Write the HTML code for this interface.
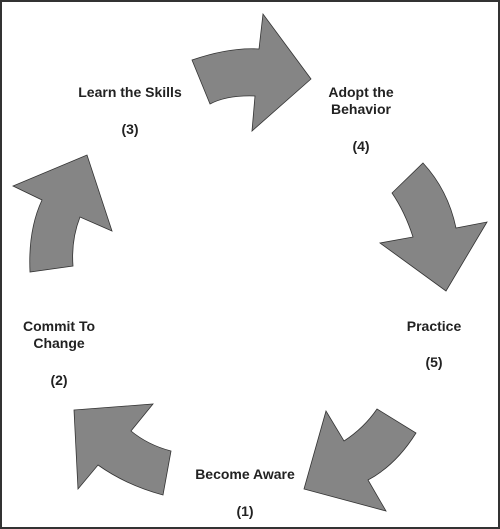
<!DOCTYPE html>
<html><head><style>
html,body{margin:0;padding:0;background:#fff}
svg{display:block}
text{font-family:"Liberation Sans",Arial,sans-serif;font-weight:bold;font-size:14px;fill:#222;text-anchor:middle}
</style></head><body>
<svg width="500" height="529" viewBox="0 0 500 529">
<rect x="1" y="1" width="498" height="527" fill="#fff" stroke="#333" stroke-width="2"/>
<g fill="#858585" stroke="#333" stroke-width="0.8">
<path d="M192,60 Q230,47 259,49 L263,14 L311,79 L252,131 L255,96 Q227,95 210,104 Z"/>
<path d="M423,163 Q448,190 456,228 L487,222 L446,291 L380,243 L413,237 Q405,212 392,193 Z"/>
<path d="M30,272 Q28,230 42,200 L13,186 L87,155 L112,231 L80,217 Q71,240 73,266 Z"/>
<path d="M74,410 L153,404 L131,431 Q148,445 171,451 L163,495 Q126,485 98,465 L78,489 Z"/>
<path d="M377,409 L416,433 Q396,465 368,480 L386,511 L304,489 L326,411 L344,441 Q364,428 377,409 Z"/>
</g>
<text x="130" y="97">Learn the Skills</text>
<text x="130" y="134">(3)</text>
<text x="361" y="97">Adopt the</text>
<text x="361" y="114">Behavior</text>
<text x="361" y="151">(4)</text>
<text x="59" y="331">Commit To</text>
<text x="59" y="348">Change</text>
<text x="59" y="385">(2)</text>
<text x="434" y="331">Practice</text>
<text x="434" y="367">(5)</text>
<text x="245" y="479">Become Aware</text>
<text x="245" y="516">(1)</text>
</svg>
</body></html>
